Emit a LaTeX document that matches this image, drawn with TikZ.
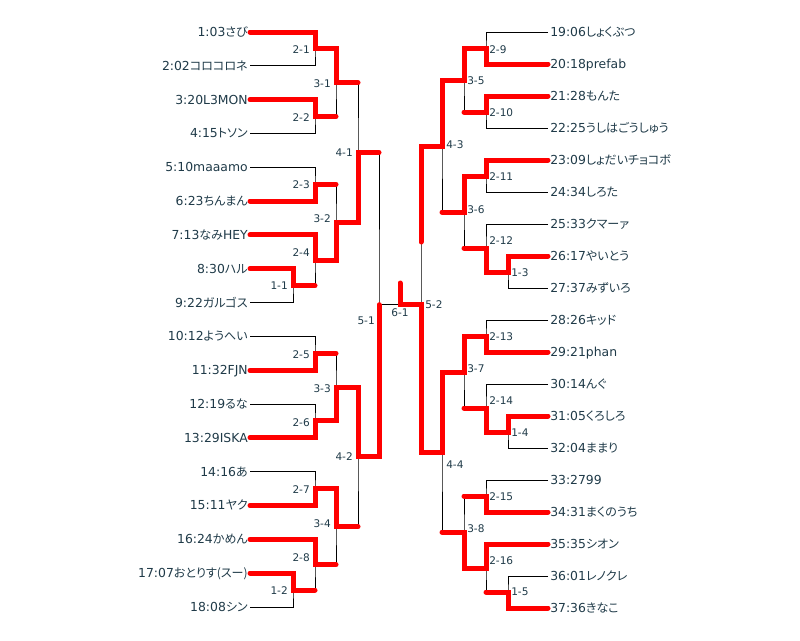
\documentclass[tikz,border=0pt]{standalone}
\usepackage{fontspec}
\setmainfont{DejaVu Sans}
\newfontfamily\jpf[Scale=0.97,RawFeature={+palt}]{Noto Sans CJK JP}
\newcommand\jp[1]{{\jpf #1}}
\definecolor{txt}{HTML}{1F3A48}
\begin{document}
\begin{tikzpicture}[x=0.75pt,y=-0.75pt]
\tikzset{
  nmL/.style={anchor=east, inner xsep=1.5pt, inner ysep=0pt, text height=6.7pt, text depth=0pt, font=\fontsize{9.3pt}{10pt}\selectfont, text=txt},
  nmR/.style={nmL, anchor=west},
  lbL/.style={anchor=east, inner sep=0pt, font=\fontsize{7.9pt}{8pt}\selectfont, text=txt},
  lbR/.style={lbL, anchor=west},
  lbC/.style={lbL, anchor=center},
  wire/.style={draw=black, line width=0.75pt},
  win/.style={draw=red, line width=3.75pt, line cap=round},
}
\useasboundingbox (0,0) rectangle (800,640);
% ---- left names
\node[nmL] (p1) at (250,32) {1:03\jp{さび}};
\node[nmL] (p2) at (250,65.8) {2:02\jp{コロコロネ}};
\node[nmL] (p3) at (250,99.6) {3:20L3MON};
\node[nmL] (p4) at (250,133.5) {4:15\jp{トソン}};
\node[nmL] (p5) at (250,167.3) {5:10maaamo};
\node[nmL] (p6) at (250,201.1) {6:23\jp{ちんまん}};
\node[nmL] (p7) at (250,234.9) {7:13\jp{なみ}HEY};
\node[nmL] (p8) at (250,268.7) {8:30\jp{ハル}};
\node[nmL] (p9) at (250,302.6) {9:22\jp{ガルゴス}};
\node[nmL] (p10) at (250,336.4) {10:12\jp{ようへい}};
\node[nmL] (p11) at (250,370.2) {11:32FJN};
\node[nmL] (p12) at (250,404) {12:19\jp{るな}};
\node[nmL] (p13) at (250,437.8) {13:29ISKA};
\node[nmL] (p14) at (250,471.7) {14:16\jp{あ}};
\node[nmL] (p15) at (250,505.5) {15:11\jp{ヤク}};
\node[nmL] (p16) at (250,539.3) {16:24\jp{かめん}};
\node[nmL] (p17) at (250,573.1) {17:07\jp{おとりす(スー)}};
\node[nmL] (p18) at (250,607) {18:08\jp{シン}};
% ---- right names
\node[nmR] (p19) at (548,32) {19:06\jp{しょくぶつ}};
\node[nmR] (p20) at (548,64) {20:18prefab};
\node[nmR] (p21) at (548,96) {21:28\jp{もんた}};
\node[nmR] (p22) at (548,128) {22:25\jp{うしはごうしゅう}};
\node[nmR] (p23) at (548,160) {23:09\jp{しょだいチョコボ}};
\node[nmR] (p24) at (548,192) {24:34\jp{しろた}};
\node[nmR] (p25) at (548,224) {25:33\jp{クマーァ}};
\node[nmR] (p26) at (548,256) {26:17\jp{やいとう}};
\node[nmR] (p27) at (548,288) {27:37\jp{みずいろ}};
\node[nmR] (p28) at (548,320) {28:26\jp{キッド}};
\node[nmR] (p29) at (548,352) {29:21phan};
\node[nmR] (p30) at (548,384) {30:14\jp{んぐ}};
\node[nmR] (p31) at (548,416) {31:05\jp{くろしろ}};
\node[nmR] (p32) at (548,448) {32:04\jp{ままり}};
\node[nmR] (p33) at (548,480) {33:2799};
\node[nmR] (p34) at (548,512) {34:31\jp{まくのうち}};
\node[nmR] (p35) at (548,544) {35:35\jp{シオン}};
\node[nmR] (p36) at (548,576) {36:01\jp{レノクレ}};
\node[nmR] (p37) at (548,608) {37:36\jp{きなこ}};
% ---- junctions left
\coordinate (m11) at (293,285.6);
\coordinate (m12) at (293,590);
\coordinate (m21) at (315,48.9);
\coordinate (m22) at (315,116.5);
\coordinate (m23) at (315,184.2);
\coordinate (m24) at (315,260.3);
\coordinate (m25) at (315,353.3);
\coordinate (m26) at (315,420.9);
\coordinate (m27) at (315,488.6);
\coordinate (m28) at (315,564.7);
\coordinate (m31) at (336,82.7);
\coordinate (m32) at (336,222.2);
\coordinate (m33) at (336,387.1);
\coordinate (m34) at (336,526.7);
\coordinate (m41) at (358,152.5);
\coordinate (m42) at (358,456.9);
\coordinate (m51) at (379,304.7);
\coordinate (m61) at (400,304.7);
\coordinate (w61) at (400,283);
\coordinate (m52) at (421,304.7);
\coordinate (s52) at (421,242);
% ---- junctions right
\coordinate (m13) at (508,272);
\coordinate (m14) at (508,432);
\coordinate (m15) at (508,592);
\coordinate (m29) at (486,48);
\coordinate (m210) at (486,112);
\coordinate (m211) at (486,176);
\coordinate (m212) at (486,248);
\coordinate (m213) at (486,336);
\coordinate (m214) at (486,408);
\coordinate (m215) at (486,496);
\coordinate (m216) at (486,568);
\coordinate (m35) at (464,80);
\coordinate (m36) at (464,212);
\coordinate (m37) at (464,372);
\coordinate (m38) at (464,532);
\coordinate (m43) at (442,146);
\coordinate (m44) at (442,452);
% ---- thin bracket lines
\path[wire] (p8.east) -| (m11) |- (p9.east);
\path[wire] (p17.east) -| (m12) |- (p18.east);
\path[wire] (p1.east) -| (m21) |- (p2.east);
\path[wire] (p3.east) -| (m22) |- (p4.east);
\path[wire] (p5.east) -| (m23) |- (p6.east);
\path[wire] (p7.east) -| (m24) |- (m11);
\path[wire] (p10.east) -| (m25) |- (p11.east);
\path[wire] (p12.east) -| (m26) |- (p13.east);
\path[wire] (p14.east) -| (m27) |- (p15.east);
\path[wire] (p16.east) -| (m28) |- (m12);
\path[wire] (m21) -| (m31) |- (m22);
\path[wire] (m23) -| (m32) |- (m24);
\path[wire] (m25) -| (m33) |- (m26);
\path[wire] (m27) -| (m34) |- (m28);
\path[wire] (m31) -| (m41) |- (m32);
\path[wire] (m33) -| (m42) |- (m34);
\path[wire] (m41) -| (m51) |- (m42);
\path[wire] (m51) -- (m52);
\path[wire] (m43) -| (m52) |- (m44);
\path[wire] (m35) -| (m43) |- (m36);
\path[wire] (m37) -| (m44) |- (m38);
\path[wire] (m29) -| (m35) |- (m210);
\path[wire] (m211) -| (m36) |- (m212);
\path[wire] (m213) -| (m37) |- (m214);
\path[wire] (m215) -| (m38) |- (m216);
\path[wire] (p19.west) -| (m29) |- (p20.west);
\path[wire] (p21.west) -| (m210) |- (p22.west);
\path[wire] (p23.west) -| (m211) |- (p24.west);
\path[wire] (p25.west) -| (m212) |- (m13);
\path[wire] (p28.west) -| (m213) |- (p29.west);
\path[wire] (p30.west) -| (m214) |- (m14);
\path[wire] (p33.west) -| (m215) |- (p34.west);
\path[wire] (p35.west) -| (m216) |- (m15);
\path[wire] (p26.west) -| (m13) |- (p27.west);
\path[wire] (p31.west) -| (m14) |- (p32.west);
\path[wire] (p36.west) -| (m15) |- (p37.west);
% ---- winner paths (red)
\path[win] (p1.east) -| (m21) -| (m31) -- (m31 -| m41);
\path[win] (p3.east) -| (m22) -- (m22 -| m31);
\path[win] (p6.east) -| (m23) -- (m23 -| m32);
\path[win] (p7.east) -| (m24) -| (m32) -| (m41) -- (m41 -| m51);
\path[win] (p8.east) -| (m11) -- (m11 -| m24);
\path[win] (p11.east) -| (m25) -- (m25 -| m33);
\path[win] (p13.east) -| (m26) -| (m33) -| (m42) -| (m51);
\path[win] (p15.east) -| (m27) -| (m34) -- (m34 -| m42);
\path[win] (p16.east) -| (m28) -- (m28 -| m34);
\path[win] (p17.east) -| (m12) -- (m12 -| m28);
\path[win] (p29.west) -| (m213) -| (m37) -| (m44) -| (m52) -- (m61) -- (w61);
\path[win] (p20.west) -| (m29) -| (m35) -| (m43) -- (m43 -| m52) -- (s52);
\path[win] (p21.west) -| (m210) -- (m210 -| m35);
\path[win] (p23.west) -| (m211) -| (m36) -- (m36 -| m43);
\path[win] (p26.west) -| (m13) -| (m212) -- (m212 -| m36);
\path[win] (p31.west) -| (m14) -| (m214) -- (m214 -| m37);
\path[win] (p34.west) -| (m215) -- (m215 -| m38);
\path[win] (p35.west) -| (m216) -| (m38) -- (m38 -| m44);
\path[win] (p37.west) -| (m15) -- (m15 -| m216);
% ---- match labels left
\node[lbL] (l11) at (288,286) {1-1};
\node[lbL] (l12) at (288,591) {1-2};
\node[lbL] (l21) at (310,50) {2-1};
\node[lbL] (l22) at (310,117.7) {2-2};
\node[lbL] (l23) at (310,185) {2-3};
\node[lbL] (l24) at (310,252.7) {2-4};
\node[lbL] (l25) at (310,354.3) {2-5};
\node[lbL] (l26) at (310,422.7) {2-6};
\node[lbL] (l27) at (310,489.3) {2-7};
\node[lbL] (l28) at (310,557.7) {2-8};
\node[lbL] (l31) at (331,83.3) {3-1};
\node[lbL] (l32) at (331,218.3) {3-2};
\node[lbL] (l33) at (331,388.3) {3-3};
\node[lbL] (l34) at (331,523.3) {3-4};
\node[lbL] (l41) at (353,152.5) {4-1};
\node[lbL] (l42) at (353,456.5) {4-2};
\node[lbL] (l51) at (375,320.5) {5-1};
\node[lbC] (l61) at (400,312.5) {6-1};
\node[lbR] (l52) at (425,304.5) {5-2};
% ---- match labels right
\node[lbR] (l43) at (446,144.5) {4-3};
\node[lbR] (l44) at (446,465) {4-4};
\node[lbR] (l35) at (467,80.7) {3-5};
\node[lbR] (l36) at (467,209.3) {3-6};
\node[lbR] (l37) at (467,369) {3-7};
\node[lbR] (l38) at (467,529) {3-8};
\node[lbR] (l29) at (489,49.6) {2-9};
\node[lbR] (l210) at (489,112.7) {2-10};
\node[lbR] (l211) at (489,176.7) {2-11};
\node[lbR] (l212) at (489,240.7) {2-12};
\node[lbR] (l213) at (489,336.7) {2-13};
\node[lbR] (l214) at (489,400.7) {2-14};
\node[lbR] (l215) at (489,496.7) {2-15};
\node[lbR] (l216) at (489,561) {2-16};
\node[lbR] (l13) at (511,272.7) {1-3};
\node[lbR] (l14) at (511,432.7) {1-4};
\node[lbR] (l15) at (511,591.7) {1-5};
\end{tikzpicture}
\end{document}
